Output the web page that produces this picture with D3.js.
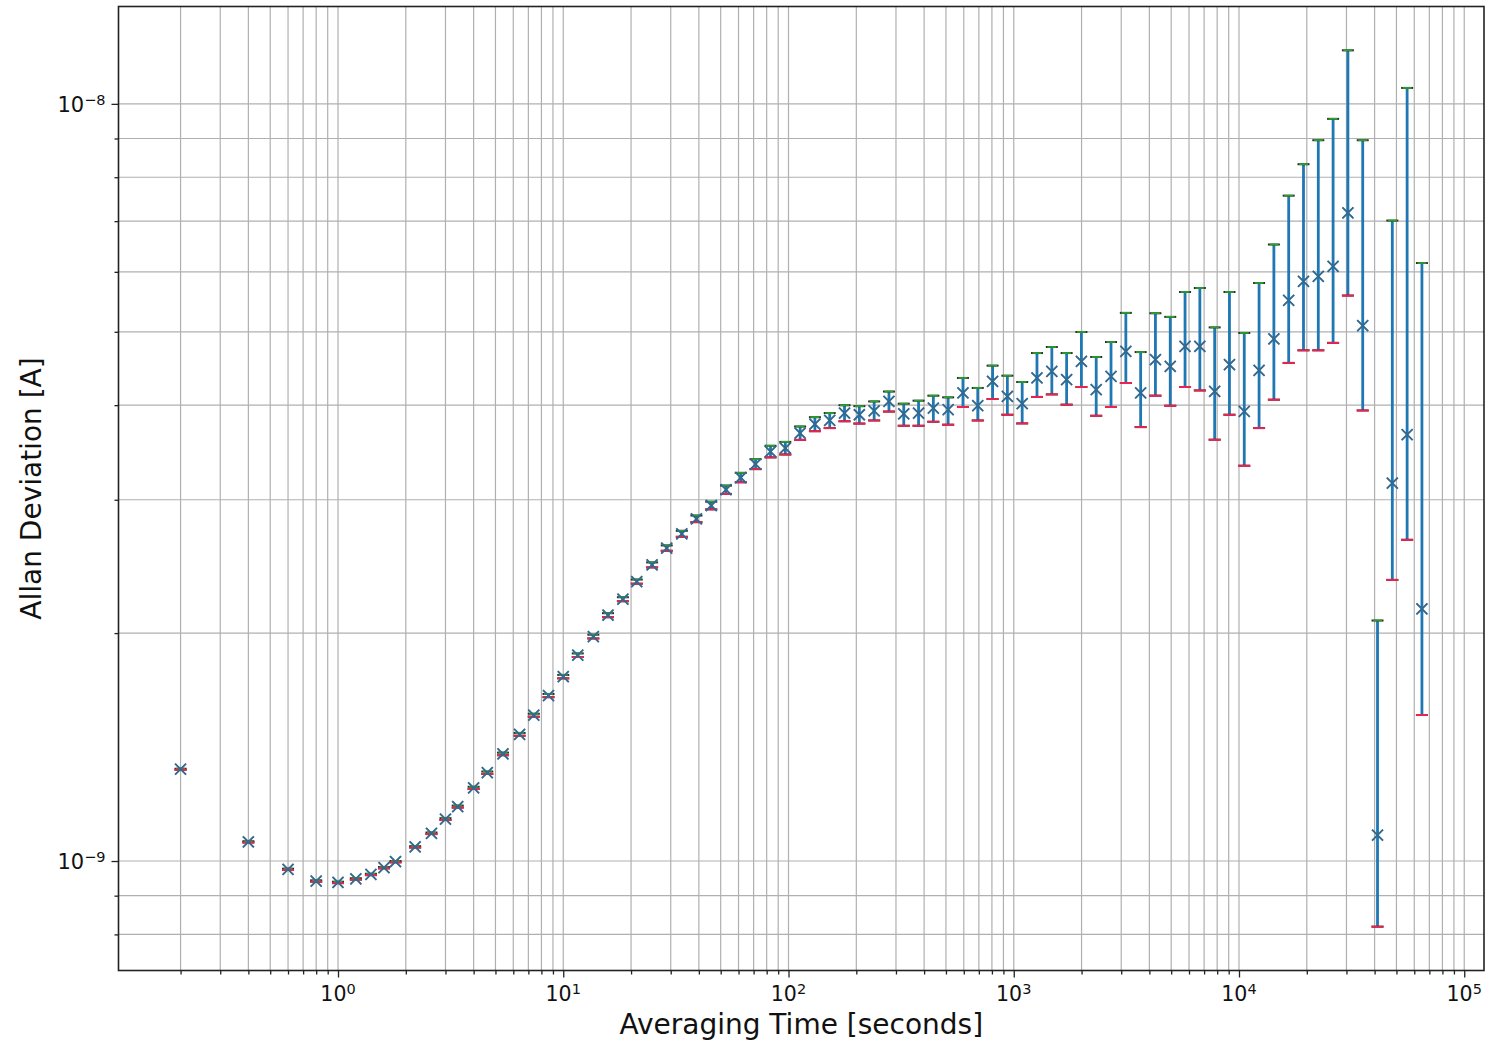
<!DOCTYPE html>
<html>
<head>
<meta charset="utf-8">
<script src="https://cdnjs.cloudflare.com/ajax/libs/d3/7.8.5/d3.min.js"></script>
<style>
  body { margin: 0; background: #fff; }
  svg { display: block; font-family: "DejaVu Sans", sans-serif; }
</style>
</head>
<body>
<div id="chart"></div>
<script>
// averaging times [s]
var taus = [0.2, 0.4, 0.6, 0.8, 1.0, 1.2, 1.4, 1.6, 1.8,
  2.2, 2.6, 3.0, 3.4, 4.0, 4.6, 5.4, 6.4, 7.4, 8.6,
  10.0, 11.6, 13.6, 15.8, 18.4, 21.2, 24.8, 28.8, 33.6, 39.0,
  45.4, 52.8, 61.4, 71.4, 83.2, 96.8, 112.6, 131.0, 152.4, 177.3,
  206.3, 240.0, 279.2, 324.8, 377.9, 439.6, 511.4, 595.0, 692.2, 805.4,
  936.9, 1090, 1268, 1476, 1717, 1997, 2323, 2703, 3145, 3659,
  4256, 4952, 5761, 6702, 7798, 9072, 10554, 12279, 14285, 16619,
  19335, 22494, 26169, 30446, 35421, 41208, 47942, 55775, 64888];

// allan deviation, in units of 1e-9 A
var adev = [1.322, 1.060, 0.975, 0.941, 0.937, 0.947, 0.960, 0.980, 0.998,
  1.044, 1.088, 1.136, 1.180, 1.249, 1.308, 1.385, 1.470, 1.558, 1.654,
  1.752, 1.870, 1.979, 2.112, 2.217, 2.339, 2.461, 2.590, 2.705, 2.831,
  2.948, 3.093, 3.210, 3.344, 3.474, 3.510, 3.674, 3.776, 3.818, 3.904,
  3.885, 3.932, 4.046, 3.895, 3.904, 3.965, 3.945, 4.151, 3.993, 4.300,
  4.108, 4.018, 4.345, 4.433, 4.323, 4.570, 4.193, 4.365, 4.711, 4.151,
  4.594, 4.501, 4.783, 4.783, 4.171, 4.524, 3.924, 4.446, 4.892, 5.503,
  5.830, 5.919, 6.102, 7.178, 5.093, 1.082, 3.156, 3.656, 2.153];

// upper / lower error, same units
var errPlus = [0.002, 0.002, 0.002, 0.002, 0.002, 0.002, 0.002, 0.002, 0.002,
  0.0022, 0.0026, 0.0031, 0.0036, 0.0042, 0.0048, 0.0055, 0.0063, 0.0071, 0.0081,
  0.0091, 0.0102, 0.0114, 0.0129, 0.0135, 0.0149, 0.0187, 0.0213, 0.0247, 0.0284,
  0.0341, 0.0395, 0.0459, 0.0509, 0.0613, 0.0673, 0.0749, 0.0804, 0.0871, 0.0950,
  0.1029, 0.1137, 0.1231, 0.123, 0.151, 0.152, 0.151, 0.194, 0.222, 0.211,
  0.267, 0.274, 0.342, 0.341, 0.364, 0.427, 0.438, 0.482, 0.585, 0.550,
  0.696, 0.731, 0.860, 0.929, 0.896, 1.119, 1.058, 1.354, 1.628, 2.061,
  2.493, 3.034, 3.452, 4.59, 3.86, 0.996, 3.856, 6.84, 4.01];

var errMinus = [0.002, 0.002, 0.002, 0.002, 0.002, 0.002, 0.002, 0.002, 0.002,
  0.0022, 0.0026, 0.0031, 0.0036, 0.0042, 0.0048, 0.0055, 0.0063, 0.0071, 0.0081,
  0.0091, 0.0102, 0.0114, 0.0129, 0.0135, 0.0149, 0.0187, 0.0213, 0.0247, 0.0284,
  0.0341, 0.0395, 0.0459, 0.0509, 0.0613, 0.0673, 0.0749, 0.0804, 0.0871, 0.0950,
  0.1029, 0.1137, 0.1231, 0.138, 0.147, 0.162, 0.176, 0.173, 0.175, 0.224,
  0.223, 0.234, 0.244, 0.300, 0.317, 0.343, 0.320, 0.387, 0.432, 0.409,
  0.477, 0.508, 0.556, 0.600, 0.570, 0.639, 0.597, 0.715, 0.825, 0.955,
  1.104, 1.193, 1.268, 1.596, 1.157, 0.263, 0.805, 1.00, 0.594];

var xMajor = [1, 10, 100, 1000, 10000, 100000];
var yMajor = [1e-9, 1e-8];

var data = taus.map(function(t, i) {
  return { tau: t, y: adev[i] * 1e-9, hi: (adev[i] + errPlus[i]) * 1e-9, lo: (adev[i] - errMinus[i]) * 1e-9 };
});

var W = 1502, H = 1043;
var margin = {top: 6.5, left: 118.5, right: 18, bottom: 72.5},
    width  = W - margin.left - margin.right,
    height = H - margin.top - margin.bottom;

// log domains with 5% margins like matplotlib autoscale
function logPad(lo, hi) {
  var a = Math.log10(lo), b = Math.log10(hi), m = (b - a) * 0.05;
  return [Math.pow(10, a - m), Math.pow(10, b + m)];
}
var x = d3.scaleLog().domain(logPad(d3.min(taus), d3.max(taus))).range([0, width]);
var y = d3.scaleLog().domain(logPad(d3.min(data, function(d) { return d.lo; }),
                                    d3.max(data, function(d) { return d.hi; }))).range([height, 0]);

function minors(scale) {
  var dom = scale.domain(), out = [];
  for (var e = Math.floor(Math.log10(dom[0])); e <= Math.ceil(Math.log10(dom[1])); e++) {
    for (var k = 2; k <= 9; k++) {
      var v = k * Math.pow(10, e);
      if (v >= dom[0] && v <= dom[1]) out.push(v);
    }
  }
  return out;
}

var svg = d3.select("#chart").append("svg").attr("width", W).attr("height", H);
var g = svg.append("g").attr("transform", "translate(" + margin.left + "," + margin.top + ")");

var gridColor = "#b0b0b0";
var xMaj = xMajor.filter(function(v) { return v >= x.domain()[0] && v <= x.domain()[1]; });

// grid lines (major + minor)
g.append("g").selectAll("line").data(xMaj.concat(minors(x)))
  .enter().append("line")
  .attr("x1", function(d) { return x(d); }).attr("x2", function(d) { return x(d); })
  .attr("y1", 0).attr("y2", height)
  .attr("stroke", gridColor).attr("stroke-width", 1.2);
g.append("g").selectAll("line").data(yMajor.concat(minors(y)))
  .enter().append("line")
  .attr("y1", function(d) { return y(d); }).attr("y2", function(d) { return y(d); })
  .attr("x1", 0).attr("x2", width)
  .attr("stroke", gridColor).attr("stroke-width", 1.2);

// axes: tick marks only
function styleAxis(sel) {
  sel.select(".domain").remove();
  sel.selectAll(".tick line").attr("stroke", "#222").attr("stroke-width", 1.3);
}
g.append("g").attr("transform", "translate(0," + height + ")")
  .call(d3.axisBottom(x).tickValues(xMaj).tickSize(7).tickFormat("")).call(styleAxis);
g.append("g").attr("transform", "translate(0," + height + ")")
  .call(d3.axisBottom(x).tickValues(minors(x)).tickSize(4).tickFormat("")).call(styleAxis);
g.append("g")
  .call(d3.axisLeft(y).tickValues(yMajor).tickSize(7).tickFormat("")).call(styleAxis);
g.append("g")
  .call(d3.axisLeft(y).tickValues(minors(y)).tickSize(4).tickFormat("")).call(styleAxis);

// tick labels as 10^n
var xl = g.append("g").selectAll("text").data(xMaj).enter().append("text")
  .attr("x", function(d) { return x(d); })
  .attr("y", height + 30.5)
  .attr("text-anchor", "middle")
  .attr("font-size", 20.5).attr("fill", "#111");
xl.append("tspan").text("10");
xl.append("tspan").attr("dy", "-0.5em").attr("font-size", 14.5)
  .text(function(d) { return Math.round(Math.log10(d)); });

var yl = g.append("g").selectAll("text").data(yMajor).enter().append("text")
  .attr("x", -13)
  .attr("y", function(d) { return y(d) + 8; })
  .attr("text-anchor", "end")
  .attr("font-size", 21).attr("fill", "#111");
yl.append("tspan").text("10");
yl.append("tspan").attr("dy", "-0.5em").attr("font-size", 14.5)
  .text(function(d) { return "\u2212" + Math.abs(Math.round(Math.log10(d))); });

// error bars
var bars = g.append("g");
bars.selectAll("line.err").data(data).enter().append("line")
  .attr("x1", function(d) { return x(d.tau); }).attr("x2", function(d) { return x(d.tau); })
  .attr("y1", function(d) { return y(d.hi); }).attr("y2", function(d) { return y(d.lo); })
  .attr("stroke", "#1f77b4").attr("stroke-width", 2.8);

function cap(cls, key, color, half, sw) {
  bars.selectAll("line." + cls).data(data).enter().append("line")
    .attr("class", cls)
    .attr("x1", function(d) { return x(d.tau) - half; }).attr("x2", function(d) { return x(d.tau) + half; })
    .attr("y1", function(d) { return y(d[key]); }).attr("y2", function(d) { return y(d[key]); })
    .attr("stroke", color).attr("stroke-width", sw);
}
cap("capHi", "hi", "#2b2b2b", 6, 2);
cap("capLo", "lo", "#2b2b2b", 6, 2);

// markers
var sym = "M-5.5,-5.5L5.5,5.5M-5.5,5.5L5.5,-5.5";
g.append("g").selectAll("path").data(data).enter().append("path")
  .attr("transform", function(d) { return "translate(" + x(d.tau) + "," + y(d.y) + ")"; })
  .attr("d", sym).attr("fill", "none").attr("stroke", "#1f77b4").attr("stroke-width", 1.8);
g.append("g").selectAll("path").data(data).enter().append("path")
  .attr("transform", function(d) { return "translate(" + x(d.tau) + "," + y(d.y) + ")"; })
  .attr("d", sym).attr("fill", "none").attr("stroke", "#555").attr("stroke-opacity", 0.45).attr("stroke-width", 1.6);

// upper/lower bound markers
cap("hiMark", "hi", "#2ca02c", 4.5, 1.8);
cap("loMark", "lo", "#ea2350", 6, 2);

// frame
g.append("rect").attr("width", width).attr("height", height)
  .attr("fill", "none").attr("stroke", "#222").attr("stroke-width", 1.6);

// axis labels
svg.append("text")
  .attr("x", margin.left + width / 2).attr("y", 1034)
  .attr("text-anchor", "middle").attr("font-size", 28).attr("fill", "#111")
  .text("Averaging Time [seconds]");
svg.append("text")
  .attr("transform", "translate(41," + (margin.top + height / 2) + ") rotate(-90)")
  .attr("text-anchor", "middle").attr("font-size", 28).attr("fill", "#111")
  .text("Allan Deviation [A]");
</script>
</body>
</html>
